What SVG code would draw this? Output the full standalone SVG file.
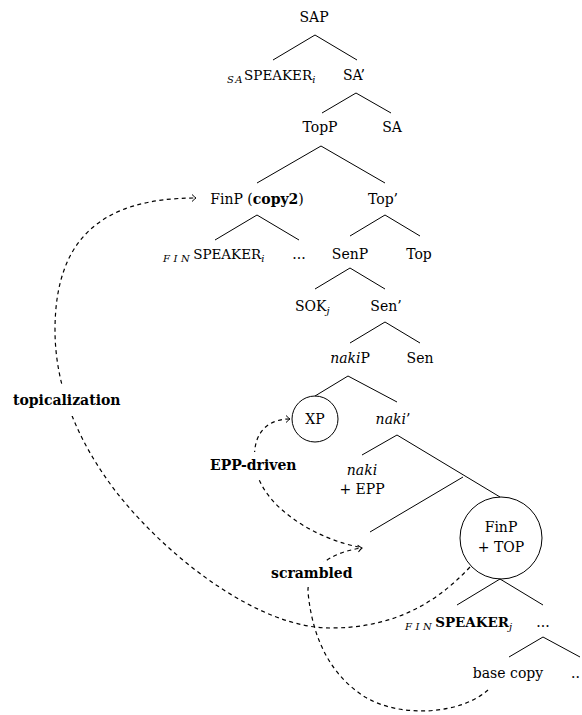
<svg xmlns="http://www.w3.org/2000/svg" width="582" height="715" viewBox="0 0 582 715">
<style>
text{font-family:"DejaVu Serif","Liberation Serif",serif;font-size:14px;fill:#000}
.c{text-anchor:middle}
.b{font-weight:bold}
.i{font-style:italic}
.sub{font-size:10px;font-style:italic}
.sc{font-size:13.5px}
.e{stroke:#000;stroke-width:1;fill:none}
.d{stroke:#000;stroke-width:1.2;fill:none;stroke-dasharray:4 3.5}
.bg{fill:#fff}
</style>
<defs>
<marker id="ah" viewBox="-6 -5 8 10" refX="0" refY="0" markerWidth="8" markerHeight="10" markerUnits="userSpaceOnUse" orient="auto">
<path d="M-4,-3.5 Q-1.5,-1 0,0 Q-1.5,1 -4,3.5" fill="none" stroke="#000" stroke-width="1"/>
</marker>
</defs>
<g id="connectors">
<g id="edges">
<path class="e" d="M315 35L273 60M315 35L357 60"/>
<path class="e" d="M356 93L322 113M356 93L391 113"/>
<path class="e" d="M321 146L257 183M321 146L385 183"/>
<path class="e" d="M257 215L215 240M257 215L299 240"/>
<path class="e" d="M385 215L350 236M385 215L420 236"/>
<path class="e" d="M350 268L315 289M350 268L385 289"/>
<path class="e" d="M385 322L350 343M385 322L420 343"/>
<path class="e" d="M348 376L315 396M348 376L397 402"/>
<path class="e" d="M397 435L362 455M397 435L500 497"/>
<path class="e" d="M463 477L370 532"/>
<path class="e" d="M500 579L457 605M500 579L543 605"/>
<path class="e" d="M543 637L509 657M543 637L580 657"/>
</g>
<g id="movement">
<path class="d" marker-end="url(#ah)" d="M470 567C430 610 385 628 330 628C260 628 170 560 117 493C80 445 55 390 55 330C55 240 100 198 196 198"/>
<path class="d" marker-end="url(#ah)" d="M488 690C460 715 400 718 365 697C335 678 313 645 308 592C307 570 330 552 362 548"/>
<path class="d" marker-end="url(#ah)" d="M359 547C320 540 265 510 256 470C250 440 262 419 290 419"/>
</g>
</g>
<g id="n-SAP"><text class="c" x="314" y="22">SAP</text></g>
<g id="n-SAspeaker"><text x="227" y="80"><tspan class="sub" dy="3" letter-spacing="1.5">SA</tspan><tspan class="sc" dy="-3">SPEAKER</tspan><tspan class="sub" dy="3">i</tspan></text></g>
<g id="n-SAbar"><text class="c" x="354" y="80">SA’</text></g>
<g id="n-TopP"><text class="c" x="320" y="132">TopP</text></g>
<g id="n-SA"><text class="c" x="392" y="132">SA</text></g>
<g id="n-FinPcopy2"><text class="c" x="257" y="204">FinP (<tspan class="b">copy2</tspan>)</text></g>
<g id="n-Topbar"><text class="c" x="383" y="204">Top’</text></g>
<g id="n-FINspeaker"><text x="163" y="259"><tspan class="sub" dy="3" letter-spacing="3.5">FIN</tspan><tspan class="sc" dy="-3">SPEAKER</tspan><tspan class="sub" dy="3">i</tspan></text></g>
<g id="n-dots1"><text class="c" x="299" y="259">...</text></g>
<g id="n-SenP"><text class="c" x="350" y="259">SenP</text></g>
<g id="n-Top"><text class="c" x="419" y="259">Top</text></g>
<g id="n-SOK"><text x="295" y="311">SOK<tspan class="sub" dy="3">j</tspan></text></g>
<g id="n-Senbar"><text class="c" x="386" y="311">Sen’</text></g>
<g id="n-nakiP"><text class="c" x="350" y="363"><tspan class="i">naki</tspan>P</text></g>
<g id="n-Sen"><text class="c" x="420" y="363">Sen</text></g>
<g id="n-XP"><circle class="e" cx="315" cy="419" r="23"/><text class="c" x="315" y="424">XP</text></g>
<g id="n-nakibar"><text class="c" x="393" y="424"><tspan class="i">naki</tspan>’</text></g>
<g id="n-naki"><text class="c i" x="362" y="475">naki</text><text class="c" x="362" y="494">+ EPP</text></g>
<g id="n-FinPTOP"><circle class="e" cx="501" cy="538" r="41"/><text class="c" x="501" y="532">FinP</text><text class="c" x="501" y="552">+ TOP</text></g>
<g id="n-FINspeakerj"><text x="405" y="627"><tspan class="sub" dy="3" letter-spacing="3.5">FIN</tspan><tspan class="sc b" dy="-3">SPEAKER</tspan><tspan class="sub" dy="3">j</tspan></text></g>
<g id="n-dots2"><text class="c" x="543" y="627">...</text></g>
<g id="n-base"><text class="c" x="508" y="678">base copy</text></g>
<g id="n-dots3"><text x="571" y="678">..</text></g>
<g id="labels">
<rect class="bg" x="11" y="387" width="117" height="29"/>
<text class="b" x="13" y="405">topicalization</text>
<rect class="bg" x="207" y="452" width="94" height="27"/>
<text class="b" x="210" y="470">EPP-driven</text>
<rect class="bg" x="268" y="562" width="90" height="25"/>
<text class="b" x="271" y="578">scrambled</text>
</g>
</svg>
